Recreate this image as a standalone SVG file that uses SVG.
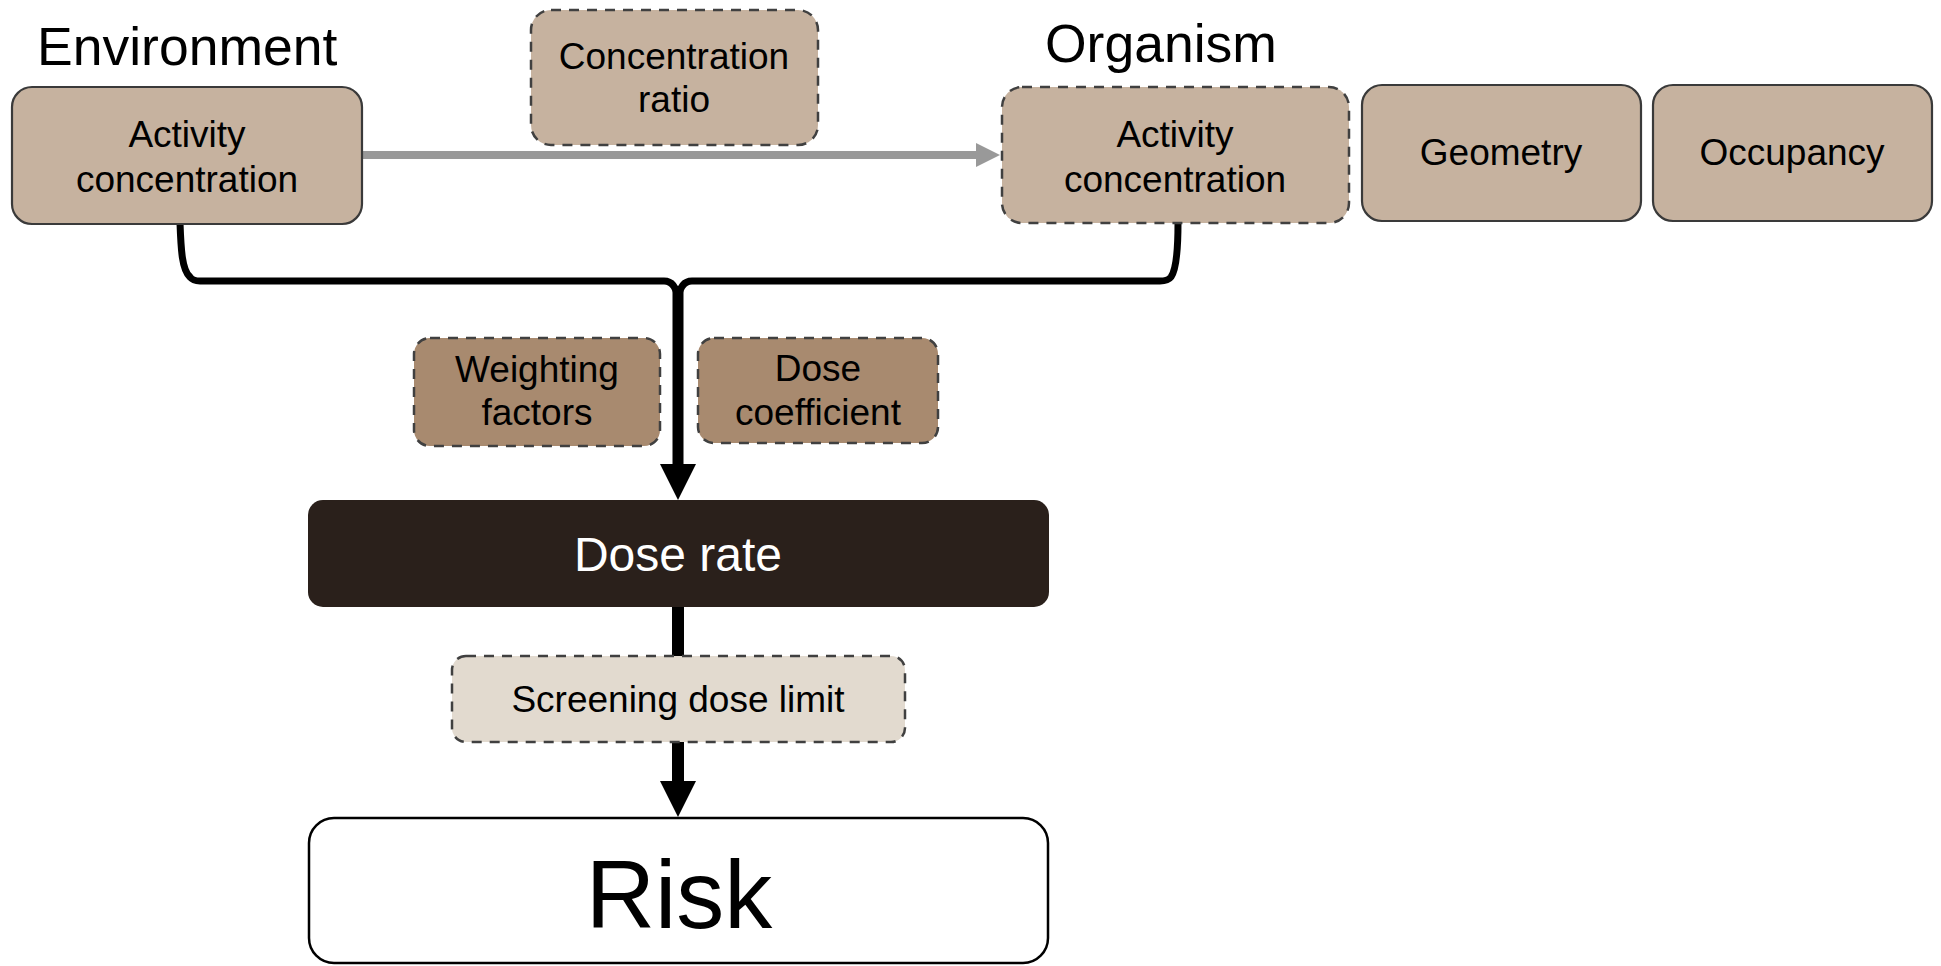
<svg xmlns="http://www.w3.org/2000/svg" width="1941" height="966" viewBox="0 0 1941 966">
<defs>
<style>
text{font-family:"Liberation Sans",Arial,sans-serif;text-anchor:middle;fill:#000}
.t{font-size:37px}
.h{font-size:53.5px;text-anchor:start}
.tan{fill:#c6b29f}
.solid{stroke:#3a3a3a;stroke-width:2.2}
.dash{stroke:#404040;stroke-width:2.5;stroke-dasharray:10 8}
.dark{fill:#a88a6f}
.wire{fill:none;stroke:#000;stroke-width:7;stroke-linejoin:round}
</style>
<marker id="grey" markerUnits="userSpaceOnUse" markerWidth="24" markerHeight="24" refX="1" refY="12" orient="auto" overflow="visible">
<path d="M0,0 L24,12 L0,24 Z" fill="#999"/>
</marker>
<marker id="blk" markerUnits="userSpaceOnUse" markerWidth="38" markerHeight="36" refX="1" refY="18" orient="auto" overflow="visible">
<path d="M0,0 L36,18 L0,36 Z" fill="#000"/>
</marker>
</defs>
<rect width="1941" height="966" fill="#fff"/>

<g id="labels">
<text class="h" x="37" y="65">Environment</text>
<text class="h" x="1045" y="62">Organism</text>
</g>

<g id="connectors">
<line x1="362" y1="155" x2="977" y2="155" stroke="#999" stroke-width="8" marker-end="url(#grey)"/>
<path class="wire" d="M180,223 C181,250 182,270 190,277 Q193,281 200,281 L664,281 Q676,281 678,300"/>
<path class="wire" d="M1178,223 C1178,250 1176,270 1171,277 Q1168,281 1160,281 L692,281 Q680,281 678,300"/>
<line x1="678" y1="290" x2="678" y2="465" stroke="#000" stroke-width="11" marker-end="url(#blk)"/>
<line x1="678" y1="607" x2="678" y2="656" stroke="#000" stroke-width="12"/>
<line x1="678" y1="742" x2="678" y2="782" stroke="#000" stroke-width="12" marker-end="url(#blk)"/>
</g>

<g id="env-activity">
<rect class="tan solid" x="12" y="87" width="350" height="137" rx="20"/>
<text class="t" x="187" y="147">Activity</text>
<text class="t" x="187" y="192">concentration</text>
</g>

<g id="concentration-ratio">
<rect class="tan dash" x="531" y="10" width="287" height="135" rx="20"/>
<text class="t" x="674" y="69">Concentration</text>
<text class="t" x="674" y="112">ratio</text>
</g>

<g id="org-activity">
<rect class="tan dash" x="1002" y="87" width="347" height="136" rx="20"/>
<text class="t" x="1175" y="147">Activity</text>
<text class="t" x="1175" y="192">concentration</text>
</g>

<g id="geometry">
<rect class="tan solid" x="1362" y="85" width="279" height="136" rx="20"/>
<text class="t" x="1501" y="165">Geometry</text>
</g>

<g id="occupancy">
<rect class="tan solid" x="1653" y="85" width="279" height="136" rx="20"/>
<text class="t" x="1792" y="165">Occupancy</text>
</g>

<g id="weighting-factors">
<rect class="dark dash" x="414" y="338" width="246" height="108" rx="16"/>
<text class="t" x="537" y="382">Weighting</text>
<text class="t" x="537" y="425">factors</text>
</g>

<g id="dose-coefficient">
<rect class="dark dash" x="698" y="338" width="240" height="105" rx="16"/>
<text class="t" x="818" y="381">Dose</text>
<text class="t" x="818" y="425">coefficient</text>
</g>

<g id="dose-rate">
<rect x="308" y="500" width="741" height="107" rx="15" fill="#2a201b"/>
<text x="678" y="571" font-size="48" style="fill:#fff">Dose rate</text>
</g>

<g id="screening-dose-limit">
<rect class="dash" x="452" y="656" width="453" height="86" rx="14" fill="#e2dacf"/>
<text class="t" x="678" y="712">Screening dose limit</text>
</g>

<g id="risk">
<rect x="309" y="818" width="739" height="145" rx="25" fill="#fff" stroke="#000" stroke-width="2.5"/>
<text x="679" y="928" font-size="96">Risk</text>
</g>
</svg>
